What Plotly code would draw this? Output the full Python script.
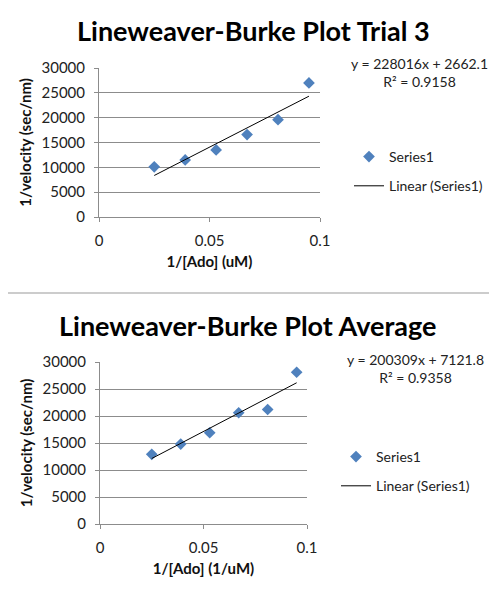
import plotly.graph_objects as go

# 1/[Ado] values, shared by both charts
ado_inv = [0.025, 0.039, 0.053, 0.067, 0.081, 0.095]

# 1/velocity (sec/nm)
trial3_inv_v = [10100, 11500, 13500, 16600, 19600, 27000]
avg_inv_v = [12900, 14800, 16900, 20600, 21200, 28100]

# trendline equations as printed on the charts: (slope, intercept, R^2)
trial3_fit = (228016, 2662.1, 0.9158)
avg_fit = (200309, 7121.8, 0.9358)

# the page body adds an 8px margin, so shrink the figure to fit the window
OFF = 8
W, H = 497 - OFF, 600 - OFF
FONT = "Lato"
BLUE = "#4F81BD"
GRID = "#8C8C8C"


def px_x(p):
    return (p - OFF) / W


def px_y(p):
    return 1 - (p - OFF) / H


def trend(fit):
    xs = [ado_inv[0], ado_inv[-1]]
    return xs, [fit[0] * x + fit[1] for x in xs]


fig = go.Figure()

charts = [
    ("", trial3_inv_v, trial3_fit, "legend"),
    ("2", avg_inv_v, avg_fit, "legend2"),
]
for sfx, yvals, fit, leg in charts:
    fig.add_trace(go.Scatter(
        x=ado_inv, y=yvals, mode="markers", name="Series1",
        marker=dict(symbol="diamond", size=9, color=BLUE),
        xaxis="x" + sfx, yaxis="y" + sfx, legend=leg, legendgroup="pts" + sfx,
    ))
    tx, ty = trend(fit)
    fig.add_trace(go.Scatter(
        x=tx, y=ty, mode="lines", name="Linear (Series1)",
        line=dict(color="black", width=1),
        xaxis="x" + sfx, yaxis="y" + sfx, legend=leg, legendgroup="fit" + sfx,
    ))

xcommon = dict(range=[0, 0.1], dtick=0.05, showgrid=False, showline=True,
               linecolor=GRID, ticks="outside", ticklen=4, tickcolor=GRID,
               zeroline=False, tickfont=dict(size=15, color="#222"),
               ticklabelstandoff=6, automargin=False)
ycommon = dict(range=[0, 30000], dtick=5000, tickformat="d", showgrid=True,
               gridcolor=GRID, showline=True, linecolor=GRID, ticks="outside",
               ticklen=4, tickcolor=GRID, zeroline=False,
               tickfont=dict(size=15, color="#222"), ticklabelstandoff=6,
               automargin=False)
title_font = dict(family=FONT, size=15, color="#111", weight="bold")
legend_common = dict(xanchor="left", yanchor="top", tracegroupgap=8,
                     font=dict(size=14, color="#222"), bgcolor="rgba(0,0,0,0)")

fig.update_layout(
    width=W, height=H, margin=dict(l=0, r=0, t=0, b=0, autoexpand=False),
    paper_bgcolor="white", plot_bgcolor="white",
    font=dict(family=FONT, color="#222"),
    xaxis=dict(xcommon, domain=[px_x(99), px_x(320)], anchor="y",
               title=dict(text="1/[Ado] (uM)", font=title_font, standoff=8)),
    yaxis=dict(ycommon, domain=[px_y(217), px_y(68)], anchor="x",
               title=dict(text="1/velocity (sec/nm)", font=title_font, standoff=6)),
    xaxis2=dict(xcommon, domain=[px_x(100), px_x(307)], anchor="y2",
                title=dict(text="1/[Ado] (1/uM)", font=title_font, standoff=8)),
    yaxis2=dict(ycommon, domain=[px_y(524), px_y(362)], anchor="x2",
                title=dict(text="1/velocity (sec/nm)", font=title_font, standoff=6)),
    legend=dict(legend_common, x=px_x(349), y=px_y(141)),
    legend2=dict(legend_common, x=px_x(336), y=px_y(441)),
    showlegend=True,
)

# chart titles
fig.add_annotation(text="<b>Lineweaver-Burke Plot Trial 3</b>", x=px_x(253), y=px_y(31),
                   xref="paper", yref="paper", xanchor="center", yanchor="middle",
                   showarrow=False, font=dict(size=27, color="black"))
fig.add_annotation(text="<b>Lineweaver-Burke Plot Average</b>", x=px_x(247), y=px_y(325),
                   xref="paper", yref="paper", xanchor="center", yanchor="middle",
                   showarrow=False, font=dict(size=27, color="black"))

# trendline equations
for fit, cx, cy in [(trial3_fit, 419, 72), (avg_fit, 415, 368)]:
    fig.add_annotation(
        text=f"y = {fit[0]}x + {fit[1]}<br>R² = {fit[2]}",
        x=px_x(cx), y=px_y(cy), xref="paper", yref="paper",
        xanchor="center", yanchor="middle", showarrow=False,
        align="center", font=dict(size=14, color="#222"))

# separator between the two charts
fig.add_shape(type="line", xref="paper", yref="paper", x0=0, x1=1,
              y0=px_y(293), y1=px_y(293), line=dict(color="#999", width=1))

fig.write_html("out.html")
